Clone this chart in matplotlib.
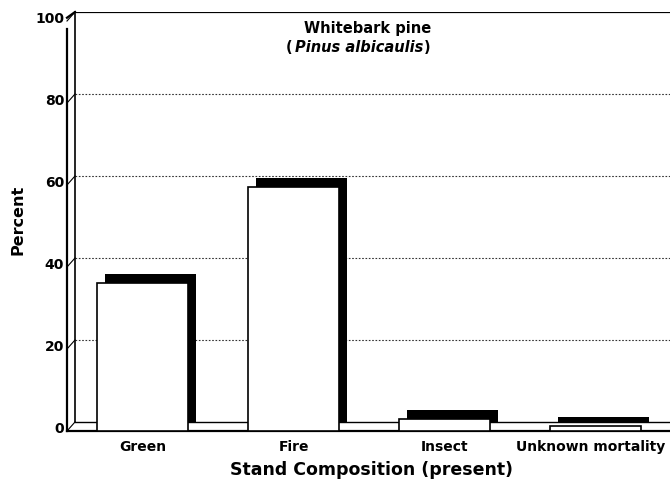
import matplotlib.pyplot as plt
from matplotlib.transforms import ScaledTranslation, blended_transform_factory

plt.rcParams['font.family'] = ['DejaVu Sans']

categories = ["Green", "Fire", "Insect", "Unknown mortality"]
percent = [36.2, 59.6, 2.9, 1.3]
yticks = [0, 20, 40, 60, 80, 100]

fig = plt.figure(figsize=(6.7, 4.85), dpi=100)
ax = fig.add_axes([75 / 670, 62 / 485, 595 / 670, 410 / 485])
ax.set_xlim(-0.5, 3.44)
ax.set_ylim(0, 100)
ax.axis("off")

# 3D depth offset: front plane sits 8px left and 9px down from the back plane
dx, dy = -8 / 100, -9 / 100
front = ax.transData + ScaledTranslation(dx, dy, fig.dpi_scale_trans)
back_y = blended_transform_factory(ax.transAxes, ax.transData)
front_y = back_y + ScaledTranslation(dx, dy, fig.dpi_scale_trans)

# back wall gridlines
for v in yticks[1:-1]:
    ax.axhline(v, color="#333333", lw=0.8, ls=(0, (1.5, 1.5)), zorder=1)
ax.axhline(100, color="black", lw=1.6, zorder=1)

# left wall
ax.plot([0, 0], [0, 100], transform=back_y, color="black", lw=1.2, clip_on=False)
ax.plot([0, 0], [0, 98], transform=front_y, color="black", lw=1.6, clip_on=False)
ax.plot([-8 / 595, 0], [100 - 1.4, 100], transform=back_y, color="black", lw=1.6, clip_on=False)
for v in yticks:
    ax.plot([-8 / 595, 0], [v - 9 / 4.1, v], transform=back_y, color="black", lw=0.8, clip_on=False)
    ax.text(-11 / 595, v - 6 / 4.1, str(v), transform=back_y, ha="right", va="center",
            fontsize=10, fontweight="bold", clip_on=False)

# floor
ax.plot([0, 1], [0, 0], transform=back_y, color="black", lw=1.0, clip_on=False)
ax.plot([0, 1.02], [0, 0], transform=front_y, color="black", lw=1.6, clip_on=False)

# bars: dark extrusion behind, white front face
x = list(range(len(categories)))
ax.bar(x, percent, width=0.6, color="black", linewidth=0, zorder=3)
faces = ax.bar(x, percent, width=0.6, color="white", edgecolor="black", linewidth=1.2, zorder=4)
for p in faces:
    p.set_transform(front)
    p.set_clip_on(False)

# category labels (last one nudged left so it stays inside the frame)
label_shift = [0, 0, 0, -0.035]
for xi, name, s in zip(x, categories, label_shift):
    ax.text(xi + s, -3.6, name, transform=front, ha="center", va="center",
            fontsize=10, fontweight="bold", clip_on=False)

fig.text(368 / 670, 1 - 28 / 485, "Whitebark pine", ha="center", va="center",
         fontsize=10.5, fontweight="bold")

# subtitle: upright parentheses around the italic species name
fig.canvas.draw()
r = fig.canvas.get_renderer()
cy = 1 - 47 / 485
mid = fig.text(359 / 670, cy, "Pinus albicaulis", ha="center", va="center",
               fontsize=10.5, fontweight="bold", style="italic")
bb = mid.get_window_extent(r)
fig.text((bb.x0 - 2) / 670, cy, "(", ha="right", va="center", fontsize=10.5, fontweight="bold")
fig.text((bb.x1 + 1) / 670, cy, ")", ha="left", va="center", fontsize=10.5, fontweight="bold")

fig.text(18 / 670, 1 - 220 / 485, "Percent", rotation=90, ha="center", va="center",
         fontsize=11.5, fontweight="bold")
fig.text(372 / 670, 1 - 470 / 485, "Stand Composition (present)", ha="center", va="center",
         fontsize=12.5, fontweight="bold")

fig.savefig("out.png", dpi=100)
